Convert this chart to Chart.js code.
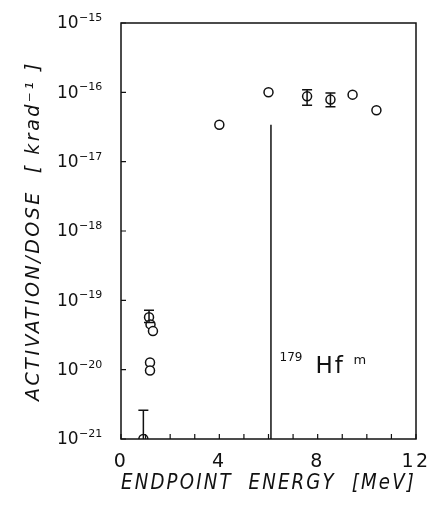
<!DOCTYPE html>
<html>
<head>
<meta charset="utf-8">
<script src="https://cdn.jsdelivr.net/npm/chart.js@4/dist/chart.umd.min.js"></script>
<style>
  html, body { margin: 0; padding: 0; background: #fff; }
  #wrap { width: 441px; height: 508px; }
</style>
</head>
<body>
<div id="wrap"><canvas id="myChart" width="441" height="508"></canvas></div>
<script>
// measured points (endpoint energy in MeV, activation/dose in krad^-1)
var energy     = [0.91, 1.14, 1.20, 1.30, 1.18, 1.18, 4.0, 6.0, 7.57, 8.52, 9.42, 10.39];
var activation = [1e-21, 5.7e-20, 4.5e-20, 3.6e-20, 1.27e-20, 9.7e-21, 3.4e-17, 1.0e-16, 8.75e-17, 7.85e-17, 9.26e-17, 5.5e-17];
var errLow     = [1e-21, 4.8e-20, null, null, null, null, null, null, 6.5e-17, 6.2e-17, null, null];
var errHigh    = [2.6e-21, 7.2e-20, null, null, null, null, null, null, 1.09e-16, 9.8e-17, null, null];

// threshold marker for 179Hf^m
var markerX = [6.1, 6.1];
var markerY = [1e-21, 3.4e-17];

var xTickValues = [0, 4, 8, 12];
var xTickLabels = ['0', '4', '8', '12'];
var yTickValues = [1e-21, 1e-20, 1e-19, 1e-18, 1e-17, 1e-16, 1e-15];
var yTickExponents = ['−21', '−20', '−19', '−18', '−17', '−16', '−15'];

var ink = '#111';
var fontFam = "'DejaVu Sans', sans-serif";

var pts = energy.map(function (e, i) { return {x: e, y: activation[i]}; });
var markerPts = markerX.map(function (x, i) { return {x: x, y: markerY[i]}; });

// wide lettering like the original for axis text
const spacing = {
  id: 'spacing',
  beforeDraw(chart) { chart.ctx.letterSpacing = '2.5px'; },
  beforeDatasetsDraw(chart) { chart.ctx.letterSpacing = '0px'; }
};

// box, inward ticks, y labels, error bars and the isotope label
const frame = {
  id: 'frame',
  afterDatasetsDraw(chart) {
    const c = chart.ctx, a = chart.chartArea;
    const xs = chart.scales.x, ys = chart.scales.y;
    c.save();
    c.strokeStyle = ink;
    c.lineWidth = 1.5;
    c.strokeRect(a.left, a.top, a.right - a.left, a.bottom - a.top);

    c.lineWidth = 1.2;
    c.beginPath();
    for (let i = 0; i <= 12; i++) {
      const px = xs.getPixelForValue(i);
      c.moveTo(px, a.bottom);
      c.lineTo(px, a.bottom - 5);
    }
    yTickValues.forEach(function (v) {
      const py = ys.getPixelForValue(v);
      c.moveTo(a.left, py);
      c.lineTo(a.left + 5, py);
    });
    c.stroke();

    // y tick labels: 10 with a raised exponent
    c.fillStyle = ink;
    c.textAlign = 'left';
    yTickValues.forEach(function (v, i) {
      const py = ys.getPixelForValue(v);
      c.font = '17px ' + fontFam;
      c.textBaseline = 'middle';
      c.fillText('10', 57, py + 1);
      c.font = '11px ' + fontFam;
      c.textBaseline = 'alphabetic';
      c.fillText(yTickExponents[i], 79, py - 2);
    });

    // error bars
    c.lineWidth = 1.5;
    c.beginPath();
    energy.forEach(function (e, i) {
      if (errHigh[i] == null) return;
      const px = xs.getPixelForValue(e);
      const hi = ys.getPixelForValue(errHigh[i]);
      const lo = ys.getPixelForValue(errLow[i]);
      c.moveTo(px, lo); c.lineTo(px, hi);
      c.moveTo(px - 5, hi); c.lineTo(px + 5, hi);
      if (lo < a.bottom - 1) { c.moveTo(px - 5, lo); c.lineTo(px + 5, lo); }
    });
    c.stroke();

    // 179Hf^m label
    c.textBaseline = 'alphabetic';
    const lx = xs.getPixelForValue(6.45), ly = ys.getPixelForValue(9e-21);
    c.font = '12px ' + fontFam;
    c.fillText('179', lx, ly - 12);
    c.letterSpacing = '2px';
    c.font = '23px ' + fontFam;
    c.fillText('Hf', lx + 36, ly);
    c.letterSpacing = '0px';
    c.font = '13px ' + fontFam;
    c.fillText('m', lx + 74, ly - 9);
    c.restore();
  }
};

const ctx = document.getElementById('myChart').getContext('2d');
let myChart = new Chart(ctx, {
  type: 'scatter',
  data: {
    datasets: [{
      data: pts,
      pointStyle: 'circle',
      pointRadius: 4.5,
      pointBackgroundColor: '#fff',
      pointBorderColor: ink,
      pointBorderWidth: 1.5,
      clip: 0
    }, {
      data: markerPts,
      showLine: true,
      pointRadius: 0,
      borderColor: ink,
      borderWidth: 1.5
    }]
  },
  options: {
    responsive: false,
    animation: false,
    events: [],
    layout: { padding: { top: 23, right: 25, left: 0, bottom: 0 } },
    scales: {
      x: {
        type: 'linear',
        min: 0,
        max: 12,
        afterFit: function (s) { s.height = 69; },
        afterBuildTicks: function (s) { s.ticks = xTickValues.map(function (v) { return {value: v}; }); },
        grid: { display: false, drawTicks: false },
        border: { display: false },
        ticks: {
          color: ink,
          padding: 12,
          font: { family: fontFam, size: 19 },
          callback: function (v) { return xTickLabels[xTickValues.indexOf(v)]; }
        },
        title: {
          display: true,
          text: 'ENDPOINT  ENERGY  [MeV]',
          color: ink,
          font: { family: fontFam, size: 21, style: 'italic' },
          padding: { top: 0, bottom: 12 }
        }
      },
      y: {
        type: 'logarithmic',
        min: 1e-21,
        max: 1e-15,
        afterFit: function (s) { s.width = 121; },
        afterBuildTicks: function (s) { s.ticks = yTickValues.map(function (v) { return {value: v}; }); },
        grid: { display: false, drawTicks: false },
        border: { display: false },
        ticks: { display: false },
        title: {
          display: true,
          text: 'ACTIVATION/DOSE  [ krad⁻¹ ]',
          color: ink,
          font: { family: fontFam, size: 19, style: 'italic' },
          padding: { top: 23, bottom: 0 }
        }
      }
    },
    plugins: {
      legend: { display: false },
      tooltip: { enabled: false }
    }
  },
  plugins: [spacing, frame]
});
</script>
</body>
</html>
